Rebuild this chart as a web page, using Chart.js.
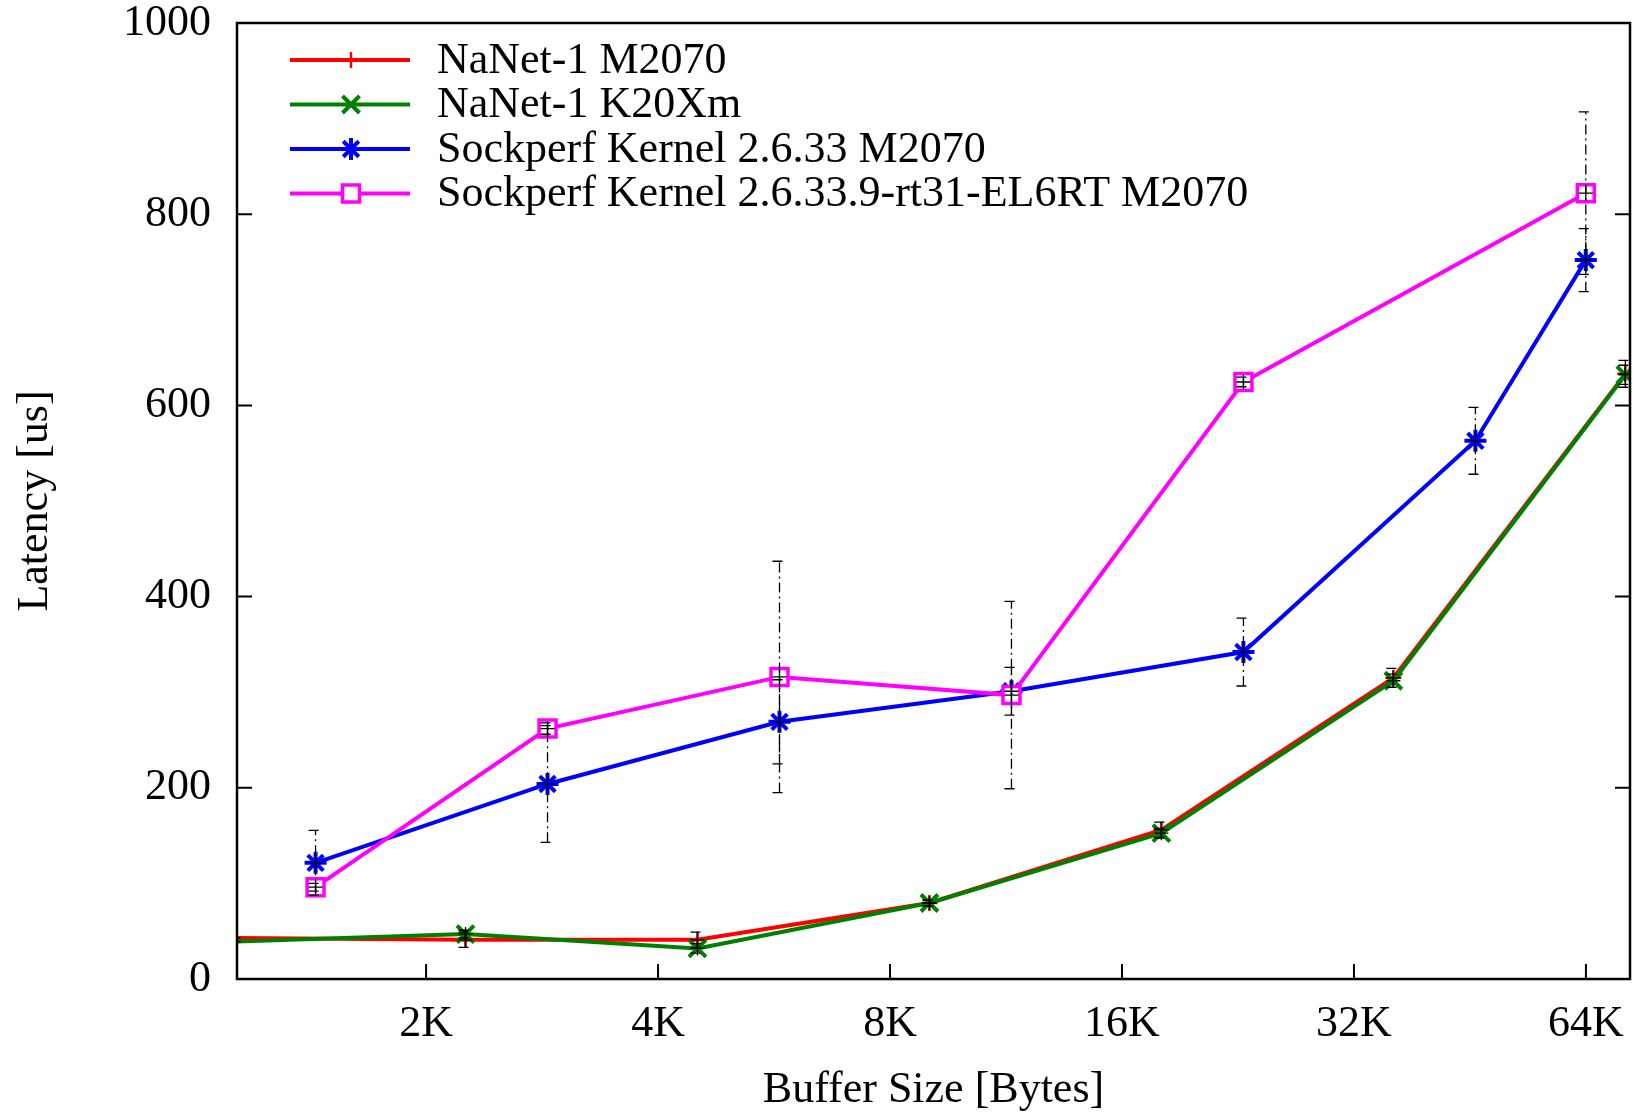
<!DOCTYPE html>
<html>
<head>
<meta charset="utf-8">
<script src="https://cdn.jsdelivr.net/npm/chart.js@4/dist/chart.umd.min.js"></script>
<style>
  html, body { margin: 0; background: #fff; }
  canvas { display: block; }
</style>
</head>
<body>
<canvas id="chart" width="1633" height="1113"></canvas>
<script>
// buffer sizes in bytes, latency in us
const nanetSizes = [1152, 2304, 4608, 9216, 18432, 36864, 73728]
const nanetM2070 = [43, 41, 41, 79.5, 156, 315, 633]
const nanetM2070Err = [3, 8, 8, 3, 8, 10, 14]
const nanetK20 = [39, 47, 32, 79.5, 152.5, 312, 632]
const nanetK20Err = [3, 4, 5, 3, 5, 7, 10]

const sockSizes = [1472, 2944, 5888, 11776, 23552, 47104, 65507]
const sockVanilla = [121.5, 204, 269, 301, 342, 563, 752]
const sockVanillaErr = [34, 61, 44, 25, 35.5, 35, 33]
const sockRtSizes = [1472, 2944, 5888, 11776, 23552, 65507]
const sockRt = [96, 262, 316, 297, 624.5, 822]
const sockRtErr = [4, 6, 121, 98, 5, 85]

const xTicks = [2048, 4096, 8192, 16384, 32768, 65536]
const yTicks = [0, 200, 400, 600, 800, 1000]
const X_MIN = 1164
const X_MAX = 74760

const FONT = { family: '"Liberation Serif", "Times New Roman", serif', size: 44 }

const series = [
  { label: "NaNet-1 M2070", color: "#ff0000", xs: nanetSizes, ys: nanetM2070, err: nanetM2070Err, marker: "cross", r: 8, w: 2.5 },
  { label: "NaNet-1 K20Xm", color: "#008000", xs: nanetSizes, ys: nanetK20, err: nanetK20Err, marker: "crossRot", r: 12, w: 4 },
  { label: "Sockperf Kernel 2.6.33 M2070", color: "#0000ff", xs: sockSizes, ys: sockVanilla, err: sockVanillaErr, marker: "star", r: 11, w: 4 },
  { label: "Sockperf Kernel 2.6.33.9-rt31-EL6RT M2070", color: "#ff00ff", xs: sockRtSizes, ys: sockRt, err: sockRtErr, marker: "rect", r: 12, w: 3.5 },
]

// gnuplot-ish frame with inward ticks on bottom, left and right
const frame = {
  id: "frame",
  afterDraw(chart) {
    const { ctx, chartArea: a, scales: { x, y } } = chart
    ctx.save()
    ctx.strokeStyle = "#000"
    ctx.setLineDash([])
    ctx.lineWidth = 2
    ctx.beginPath()
    x.ticks.forEach(t => {
      const px = x.getPixelForValue(t.value)
      ctx.moveTo(px, a.bottom)
      ctx.lineTo(px, a.bottom - 15)
    })
    y.ticks.forEach(t => {
      const py = y.getPixelForValue(t.value)
      ctx.moveTo(a.left, py)
      ctx.lineTo(a.left + 15, py)
      ctx.moveTo(a.right, py)
      ctx.lineTo(a.right - 15, py)
    })
    ctx.stroke()
    ctx.lineWidth = 2.5
    ctx.strokeRect(a.left, a.top, a.right - a.left, a.bottom - a.top)
    ctx.restore()
  }
}

const errorBars = {
  id: "errorBars",
  afterDatasetsDraw(chart) {
    const { ctx, chartArea: a, scales: { x, y } } = chart
    ctx.save()
    ctx.beginPath()
    ctx.rect(a.left, a.top, a.right - a.left, a.bottom - a.top)
    ctx.clip()
    ctx.strokeStyle = "#000"
    ctx.lineWidth = 1.3
    chart.data.datasets.forEach(ds => {
      ds.data.forEach((p, i) => {
        const e = ds.errors[i]
        const px = x.getPixelForValue(p.x)
        const py = y.getPixelForValue(p.y)
        const lo = y.getPixelForValue(p.y - e)
        const hi = y.getPixelForValue(p.y + e)
        ctx.setLineDash([10, 4, 2, 4])
        ctx.beginPath()
        ctx.moveTo(px, lo)
        ctx.lineTo(px, hi)
        ctx.moveTo(px - 7, hi)
        ctx.lineTo(px + 7, hi)
        ctx.moveTo(px - 7, lo)
        ctx.lineTo(px + 7, lo)
        ctx.stroke()
        ctx.setLineDash([])
        ctx.beginPath()
        ctx.moveTo(px - 7, py)
        ctx.lineTo(px + 7, py)
        ctx.moveTo(px, py - 7)
        ctx.lineTo(px, py + 7)
        ctx.stroke()
      })
    })
    ctx.restore()
  }
}

const keyBox = {
  id: "keyBox",
  afterDraw(chart) {
    const { ctx, chartArea: a } = chart
    ctx.save()
    ctx.font = `${FONT.size}px ${FONT.family}`
    ctx.textBaseline = "middle"
    ctx.textAlign = "left"
    series.forEach((s, i) => {
      const ly = a.top + 37 + i * 44.5
      ctx.strokeStyle = s.color
      ctx.lineWidth = 4
      ctx.beginPath()
      ctx.moveTo(a.left + 53, ly)
      ctx.lineTo(a.left + 173, ly)
      ctx.stroke()
      ctx.fillStyle = "#fff"
      ctx.lineWidth = s.w
      Chart.helpers.drawPoint(ctx, { pointStyle: s.marker, radius: s.r, borderWidth: s.w, rotation: 0 }, a.left + 114, ly)
      ctx.fillStyle = "#000"
      ctx.fillText(s.label, a.left + 200, ly + 1)
    })
    ctx.restore()
  }
}

new Chart(document.getElementById("chart"), {
  type: "line",
  data: {
    datasets: series.map((s, i) => ({
      label: s.label,
      data: s.xs.map((x, j) => ({ x, y: s.ys[j] })),
      errors: s.err,
      borderColor: s.color,
      backgroundColor: "#fff",
      borderWidth: 4,
      pointStyle: s.marker,
      pointRadius: c => (c.raw && c.raw.x < X_MIN ? 0 : s.r),
      pointBorderWidth: s.w,
      pointBorderColor: s.color,
      pointBackgroundColor: "#fff",
      tension: 0,
      order: series.length - i,
    }))
  },
  options: {
    responsive: false,
    animation: false,
    devicePixelRatio: 1,
    layout: { autoPadding: false, padding: { top: 23, right: 3, left: 0, bottom: 0 } },
    plugins: { legend: { display: false }, tooltip: { enabled: false } },
    scales: {
      x: {
        type: "logarithmic",
        min: X_MIN,
        max: X_MAX,
        grid: { display: false, drawTicks: false },
        border: { display: false },
        afterBuildTicks: s => { s.ticks = xTicks.map(v => ({ value: v })) },
        afterFit: s => { s.height = 134; s.paddingLeft = 0; s.paddingRight = 0 },
        ticks: {
          font: { ...FONT, lineHeight: 2.05 },
          color: "#000",
          padding: 0,
          maxRotation: 0,
          autoSkip: false,
          callback: v => (v / 1024) + "K",
        },
        title: { display: true, text: "Buffer Size [Bytes]", font: { ...FONT, lineHeight: 1.02 }, color: "#000", padding: 0 },
      },
      y: {
        min: 0,
        max: 1000,
        grid: { display: false, drawTicks: false },
        border: { display: false },
        afterBuildTicks: s => { s.ticks = yTicks.map(v => ({ value: v })) },
        afterFit: s => { s.width = 237; s.paddingTop = 0; s.paddingBottom = 0 },
        ticks: { font: FONT, color: "#000", padding: 26, callback: v => String(v) },
        title: { display: true, text: "Latency [us]", font: FONT, color: "#000", padding: { top: 9, bottom: 0 } },
      }
    }
  },
  plugins: [errorBars, frame, keyBox]
})
</script>
</body>
</html>
